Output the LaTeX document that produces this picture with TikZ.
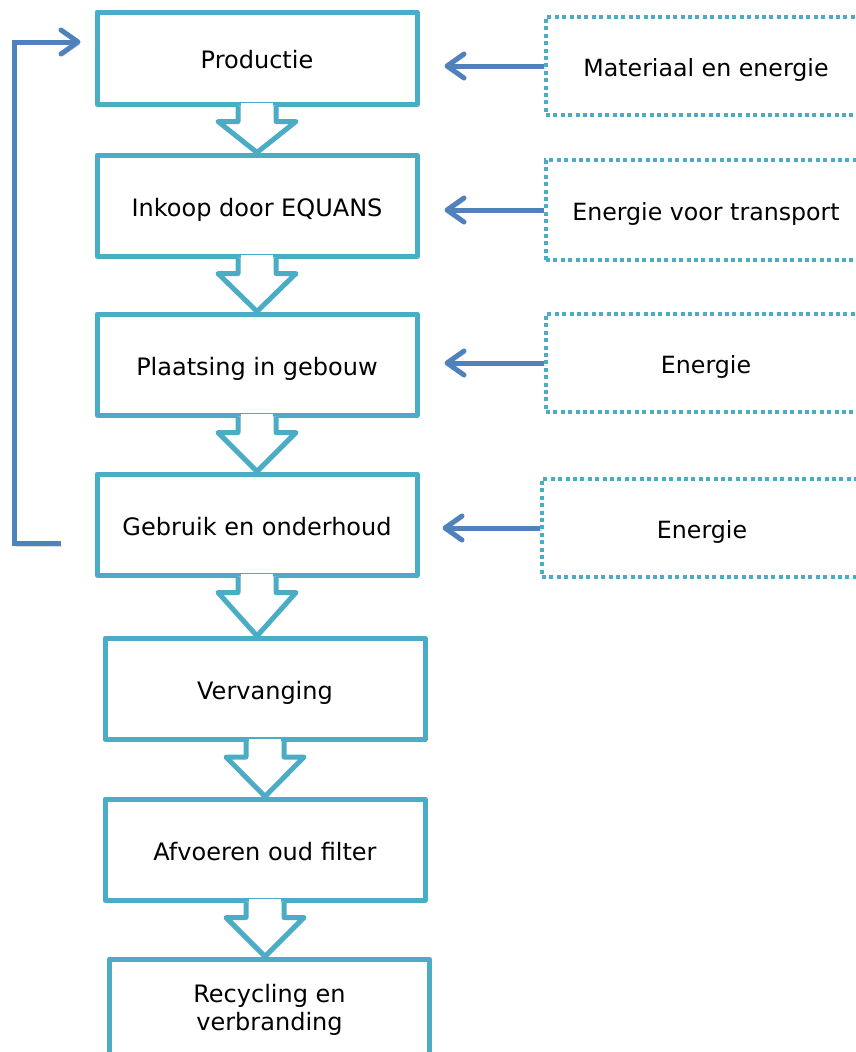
\documentclass[tikz,border=0pt]{standalone}
\usepackage{fontspec}
\setmainfont{DejaVu Sans}
\usetikzlibrary{arrows.meta,calc}
\definecolor{tealline}{HTML}{4BACC6}
\definecolor{bluearrow}{HTML}{4F81BD}
\tikzset{
  stepbox/.style={draw=tealline, line width=5pt, line join=round, fill=white,
    minimum width=320pt, minimum height=101pt, align=center, inner sep=0pt,
    font=\fontsize{24}{28}\selectfont},
  oneline/.style={text height=21pt, text depth=0pt},
  inbox/.style={draw=tealline, line width=4pt, dash pattern=on 4pt off 3.4pt,
    minimum width=320pt, minimum height=98pt, align=center, inner sep=0pt,
    text height=21pt, text depth=0pt,
    font=\fontsize{23.7}{28}\selectfont},
  chevs/.style={draw=tealline, line width=5pt, line join=round, fill=white},
  barrow/.style={draw=bluearrow, line width=5pt,
    -{Straight Barb[length=17pt,width=24pt,round]},
    preaction={draw=black!30, opacity=0.45,
      transform canvas={shift={(1.5pt,-2.5pt)}}}}
}
\newcommand\mychev[2]{%
  \fill[white] ($(#1.south)+(-16.3,-3.5)$) rectangle ($(#1.south)+(16.3,1)$);
  \draw[chevs] ($(#1.south)+(-19,-1)$) -- ++(0,16) -- ++(-20,0)
    -- (#1.south |- #2.north) -- ($(#1.south)+(39,15)$) -- ++(-20,0)
    -- ($(#1.south)+(19,-1)$);
}
\begin{document}
\begin{tikzpicture}[x=1pt,y=-1pt]
\useasboundingbox (0,0) rectangle (856,1052);
\clip (0,0) rectangle (856,1052);
% main chain
\node[stepbox, oneline, minimum height=92pt] (b1) at (257,58) {Productie};
\node[stepbox, oneline] (b2) at (257,205.5) {Inkoop door EQUANS};
\node[stepbox, oneline] (b3) at (257,364.5) {Plaatsing in gebouw};
\node[stepbox, oneline] (b4) at (257,524.5) {Gebruik en onderhoud};
\node[stepbox, oneline] (b5) at (265,689) {Vervanging};
\node[stepbox, oneline] (b6) at (265,849.5) {Afvoeren oud filter};
\node[stepbox] (b7) at (269.5,1009.5) {Recycling en\\verbranding};
% inputs
\node[inbox] (i1) at (706,66) {Materiaal en energie};
\node[inbox, minimum height=100pt] (i2) at (706,210) {Energie voor transport};
\node[inbox] (i3) at (706,363) {Energie};
\node[inbox] (i4) at (702,528) {Energie};
% block arrows
\mychev{b1}{b2}
\mychev{b2}{b3}
\mychev{b3}{b4}
\mychev{b4}{b5}
\mychev{b5}{b6}
\mychev{b6}{b7}
% input arrows
\draw[barrow] (i1.west) -- ($(b1.east |- i1.west)+(25,0)$);
\draw[barrow] (i2.west) -- ($(b2.east |- i2.west)+(25,0)$);
\draw[barrow] (i3.west) -- ($(b3.east |- i3.west)+(25,0)$);
\draw[barrow] (i4.west) -- ($(b4.east |- i4.west)+(23,0)$);
% feedback
\coordinate (fbs) at ($(b4.west)+(-34,19)$);
\coordinate (fbe) at ($(b1.west)+(-14,-16)$);
\draw[barrow] (fbs) -- ++(-46,0) |- (fbe);
\end{tikzpicture}
\end{document}
